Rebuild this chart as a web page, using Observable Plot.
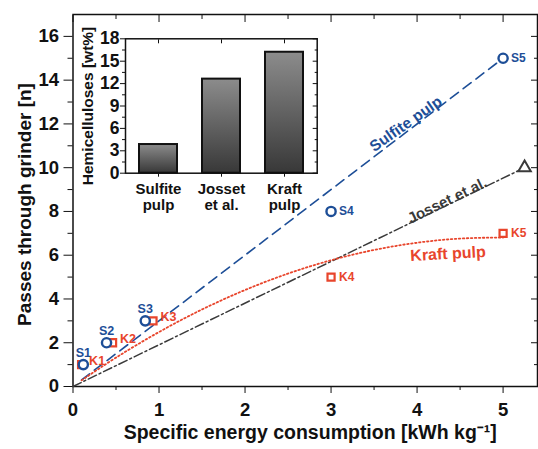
<!DOCTYPE html>
<html><head><meta charset="utf-8">
<script src="https://cdn.jsdelivr.net/npm/d3@7"></script>
<script src="https://cdn.jsdelivr.net/npm/@observablehq/plot@0.6"></script>
<style>
body{margin:0;background:#fff;}
#wrap{position:relative;width:538px;height:449px;}
#wrap svg{position:absolute;}
</style></head><body><div id="wrap"></div>
<script>
// ---- main chart data ----
const sulfiteNames = ["S1","S2","S3","S4","S5"];
const sulfiteEnergy = [0.12, 0.39, 0.84, 3.0, 5.0];
const sulfitePasses = [1, 2, 3, 8, 15];
const kraftNames = ["K1","K2","K3","K4","K5"];
const kraftEnergy = [0.1, 0.46, 0.93, 3.0, 5.0];
const kraftPasses = [1, 2, 3, 5, 7];
const jossetEnergy = [5.25];
const jossetPasses = [10];
// trend lines
const sulfiteFitX = [0.1, 5.0];
const sulfiteFitY = [0.3, 15];
const jossetFitX = [0, 5.25];
const jossetFitY = [0, 10];
const kraftFitX = [0.1, 0.5, 1, 1.5, 2, 2.5, 3, 3.5, 4, 4.5, 5];
const kraftFitY = [0.28, 1.32, 2.49, 3.52, 4.41, 5.16, 5.77, 6.24, 6.57, 6.76, 6.81];
// line labels
const lineLabels = ["Sulfite pulp", "Josset et al.", "Kraft pulp"];
const lineLabelX = [3.87, 4.35, 4.36];
const lineLabelY = [12.0, 8.5, 6.06];
// ticks
const xTicks = [0, 1, 2, 3, 4, 5];
const xMinor = [0.5, 1.5, 2.5, 3.5, 4.5];
const yTicks = [0, 2, 4, 6, 8, 10, 12, 14, 16];
const yMinor = [1, 3, 5, 7, 9, 11, 13, 15];
const xTitle = "Specific energy consumption [kWh kg⁻¹]";
const yTitle = "Passes through grinder [n]";
// ---- inset data ----
const pulps = ["Sulfite\npulp", "Josset\net al.", "Kraft\npulp"];
const hemicelluloses = [3.84, 12.6, 16.2];
const insetTicks = [0, 3, 6, 9, 12, 15, 18];
const insetMinor = [1.5, 4.5, 7.5, 10.5, 13.5, 16.5];
const insetTitle = "Hemicelluloses [wt%]";

const blue = "#1d4e97", red = "#e8452c", gray = "#3a3a3a";
const FONT = "Liberation Sans, Arial, sans-serif";

const sulfite = sulfiteNames.map((n, i) => ({n, x: sulfiteEnergy[i], y: sulfitePasses[i]}));
const kraft = kraftNames.map((n, i) => ({n, x: kraftEnergy[i], y: kraftPasses[i]}));
const josset = jossetEnergy.map((x, i) => ({x, y: jossetPasses[i]}));
const sFit = sulfiteFitX.map((x, i) => ({x, y: sulfiteFitY[i]}));
const jFit = jossetFitX.map((x, i) => ({x, y: jossetFitY[i]}));
const kFit = kraftFitX.map((x, i) => ({x, y: kraftFitY[i]}));
const labels = lineLabels.map((t, i) => ({t, x: lineLabelX[i], y: lineLabelY[i]}));
const fmt = d => String(d);

const main = Plot.plot({
  width: 538, height: 449,
  marginTop: 14, marginBottom: 63, marginLeft: 72.5, marginRight: 1,
  style: {fontFamily: FONT, fontWeight: "bold", color: "#111", background: "white"},
  x: {domain: [0, 5.4]},
  y: {domain: [0, 17]},
  marks: [
    Plot.frame({stroke: "#111", strokeWidth: 1.5}),
    Plot.axisX({ticks: xTicks, tickFormat: fmt, tickSize: 7, tickPadding: 9, fontSize: 18.5, label: null}),
    Plot.axisX({ticks: xMinor, tickSize: 4, fill: "none", label: null}),
    Plot.axisX({anchor: "top", ticks: xTicks, tickSize: 7, dy: 7, fill: "none", label: null}),
    Plot.axisX({anchor: "top", ticks: xMinor, tickSize: 4, dy: 4, fill: "none", label: null}),
    Plot.axisY({ticks: yTicks, tickFormat: fmt, tickSize: 9, tickPadding: 5, fontSize: 18.5, label: null}),
    Plot.axisY({ticks: yMinor, tickSize: 5, fill: "none", label: null}),
    Plot.axisY({anchor: "right", ticks: yTicks, tickSize: 7, dx: -7, fill: "none", label: null}),
    Plot.axisY({anchor: "right", ticks: yMinor, tickSize: 4, dx: -4, fill: "none", label: null}),
    Plot.text([xTitle], {frameAnchor: "bottom", textAnchor: "middle", lineAnchor: "middle", dx: 5, dy: 46.5, fontSize: 19.5, fill: "#111"}),
    Plot.text([yTitle], {frameAnchor: "left", textAnchor: "middle", lineAnchor: "middle", dx: -48.5, dy: 4, rotate: -90, fontSize: 19, fill: "#111"}),
    // trend lines
    Plot.line(jFit, {x: "x", y: "y", stroke: gray, strokeWidth: 1.5, strokeDasharray: "9,3,2,3"}),
    Plot.line(sFit, {x: "x", y: "y", stroke: blue, strokeWidth: 1.6, strokeDasharray: "10,6"}),
    Plot.line(kFit, {x: "x", y: "y", stroke: red, strokeWidth: 1.8, strokeDasharray: "1.5,2.5", curve: "natural"}),
    // markers
    Plot.dot(kraft, {x: "x", y: "y", symbol: "square", r: 4, stroke: red, strokeWidth: 2.2, fill: "white"}),
    Plot.dot(sulfite, {x: "x", y: "y", r: 4.6, stroke: blue, strokeWidth: 2.4, fill: "white"}),
    Plot.dot(josset, {x: "x", y: "y", symbol: "triangle", r: 4.6, stroke: gray, strokeWidth: 2, fill: "white"}),
    // point labels
    Plot.text(sulfite.slice(0, 3), {x: "x", y: "y", text: "n", dy: -12, fill: blue, fontSize: 12.5}),
    Plot.text(sulfite.slice(3), {x: "x", y: "y", text: "n", dx: 8, textAnchor: "start", fill: blue, fontSize: 12}),
    Plot.text(kraft.slice(0, 3), {x: "x", y: "y", text: "n", dx: 7.5, dy: -4, textAnchor: "start", fill: red, fontSize: 12.5}),
    Plot.text(kraft.slice(3), {x: "x", y: "y", text: "n", dx: 8, textAnchor: "start", fill: red, fontSize: 12}),
    // line labels
    Plot.text(labels.slice(0, 1), {x: "x", y: "y", text: "t", rotate: -35, fill: blue, fontSize: 15.5}),
    Plot.text(labels.slice(1, 2), {x: "x", y: "y", text: "t", rotate: -26, fill: gray, fontSize: 15}),
    Plot.text(labels.slice(2, 3), {x: "x", y: "y", text: "t", rotate: -3, fill: red, fontSize: 16})
  ]
});

const bars = pulps.map((p, i) => ({p, v: hemicelluloses[i]}));
const inset = Plot.plot({
  width: 240, height: 190,
  marginLeft: 40, marginRight: 8.3, marginTop: 18.3, marginBottom: 37.3,
  style: {fontFamily: FONT, fontWeight: "bold", color: "#111", background: "transparent", overflow: "visible"},
  x: {domain: pulps, paddingInner: 0.4, paddingOuter: 0.2},
  y: {domain: [0, 18]},
  marks: [
    Plot.frame({fill: "white"}),
    Plot.barY(bars, {x: "p", y: "v", fill: "url(#hemiGrad)", stroke: "#111", strokeWidth: 2}),
    Plot.frame({stroke: "#111", strokeWidth: 1.5}),
    Plot.axisX({tickSize: 4, tickPadding: 5, fontSize: 15, lineHeight: 1.1, label: null}),
    Plot.axisX({anchor: "top", tickSize: 4, dy: 4, fill: "none", label: null}),
    Plot.axisY({ticks: insetTicks, tickFormat: fmt, tickSize: 5, tickPadding: 1, fontSize: 17.5, label: null}),
    Plot.axisY({ticks: insetMinor, tickSize: 3, fill: "none", label: null}),
    Plot.axisY({anchor: "right", ticks: insetTicks, tickSize: 5, dx: -5, fill: "none", label: null}),
    Plot.axisY({anchor: "right", ticks: insetMinor, tickSize: 3, dx: -3, fill: "none", label: null}),
    Plot.text([insetTitle], {frameAnchor: "left", textAnchor: "middle", lineAnchor: "middle", dx: -37, rotate: -90, fontSize: 15.5, fill: "#111"})
  ]
});
const defs = d3.select(inset).insert("defs", ":first-child");
const g = defs.append("linearGradient").attr("id", "hemiGrad")
  .attr("x1", 0).attr("y1", 0).attr("x2", 0).attr("y2", 1);
g.append("stop").attr("offset", "0%").attr("stop-color", "#8c8c8c");
g.append("stop").attr("offset", "100%").attr("stop-color", "#383838");

const wrap = document.getElementById("wrap");
main.style.left = "0px"; main.style.top = "0px";
inset.style.left = "85px"; inset.style.top = "20px";
wrap.appendChild(main);
wrap.appendChild(inset);
</script>
</body></html>
